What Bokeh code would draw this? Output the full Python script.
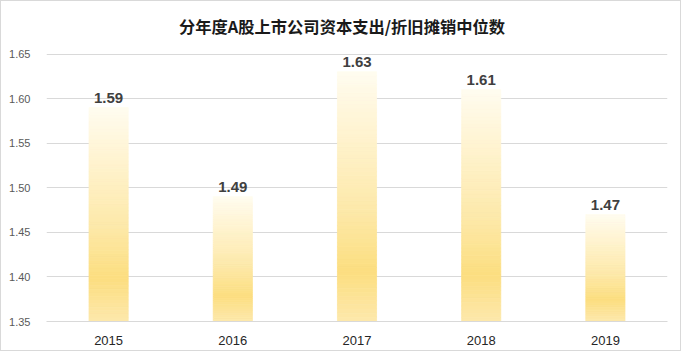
from bokeh.plotting import figure
from bokeh.models import FactorRange, NumeralTickFormatter, Range1d, FixedTicker, Label
from bokeh.embed import file_html
from bokeh.resources import INLINE
from bokeh.core.properties import value

years = ["2015", "2016", "2017", "2018", "2019"]
medians = [1.59, 1.49, 1.63, 1.61, 1.47]
title_text = "分年度A股上市公司资本支出/折旧摊销中位数"
y_ticks = [1.35, 1.40, 1.45, 1.50, 1.55, 1.60, 1.65]
y_min, y_top_tick = 1.35, 1.65

W, H = 681, 351
border_bottom = 31
frame_h = H - border_bottom            # frame spans full height above x axis
top_gap_px = 52.5                      # space above the 1.65 gridline (title area)
units_per_px = (y_top_tick - y_min) / (frame_h - top_gap_px)
y_max = y_top_tick + top_gap_px * units_per_px

p = figure(x_range=FactorRange(*years), y_range=Range1d(y_min, y_max),
           width=W, height=H, output_backend="svg", toolbar_location=None,
           min_border_left=45, min_border_right=15, min_border_top=0,
           min_border_bottom=border_bottom)
p.styles = {"border": "1px solid #d9d9d9"}
p.outline_line_color = None
p.background_fill_color = "white"
p.border_fill_color = "white"

# gradient stops: fraction from top -> rgb
stops = [(0.0, (255, 252, 240)), (0.2, (255, 245, 214)), (0.55, (253, 233, 170)),
         (0.8, (252, 222, 128)), (1.0, (253, 232, 172))]

def grad(f):
    for (f0, c0), (f1, c1) in zip(stops[:-1], stops[1:]):
        if f0 <= f <= f1:
            t = (f - f0) / (f1 - f0) if f1 > f0 else 0
            return "#%02x%02x%02x" % tuple(int(round(a + (b - a) * t)) for a, b in zip(c0, c1))
    return "#%02x%02x%02x" % stops[-1][1]

N = 60
xs, tops, bottoms, colors = [], [], [], []
for yr, v in zip(years, medians):
    span = v - y_min
    for i in range(N):
        xs.append(yr)
        tops.append(y_min + span * (N - i) / N)
        bottoms.append(y_min + span * (N - i - 1) / N)
        colors.append(grad((i + 0.5) / N))

p.vbar(x=xs, top=tops, bottom=bottoms, width=0.315, fill_color=colors,
       line_color=colors, line_width=0.8)

p.text(x=years, y=medians, text=[f"{v:.2f}" for v in medians],
       text_align="center", text_baseline="bottom", y_offset=-5,
       text_font=value("Liberation Sans"), text_font_style="bold",
       text_font_size="15px", text_color="#404040")

title = Label(x=295.5, y=frame_h - 24, x_units="screen", y_units="screen",
              text=title_text, text_align="center", text_baseline="middle",
              text_font="Noto Sans CJK SC", text_font_size="16.3px",
              text_font_style="bold", text_color="#1a1a1a")
p.add_layout(title)

p.yaxis.ticker = FixedTicker(ticks=y_ticks)
p.yaxis.formatter = NumeralTickFormatter(format="0.00")
p.yaxis.axis_line_color = None
p.yaxis.major_tick_line_color = None
p.yaxis.minor_tick_line_color = None
p.yaxis.major_label_text_font = "Liberation Sans"
p.yaxis.major_label_text_font_size = "11px"
p.yaxis.major_label_text_color = "#595959"
p.yaxis.major_label_standoff = 10

p.xaxis.axis_line_color = "#d9d9d9"
p.xaxis.major_tick_line_color = None
p.xaxis.minor_tick_line_color = None
p.xaxis.major_label_text_font = "Liberation Sans"
p.xaxis.major_label_text_font_size = "13px"
p.xaxis.major_label_text_color = "#262626"
p.xaxis.major_label_standoff = 8

p.xgrid.grid_line_color = None
p.ygrid.grid_line_color = "#d9d9d9"
p.ygrid.ticker = FixedTicker(ticks=y_ticks)

open("out.html", "w").write(file_html(p, INLINE))
